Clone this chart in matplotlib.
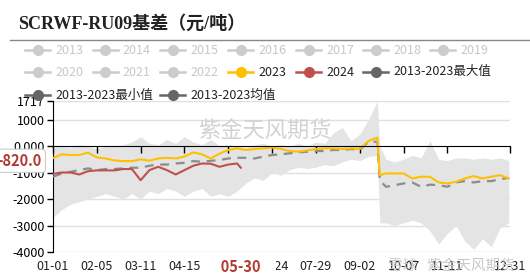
import matplotlib
matplotlib.use("Agg")
import matplotlib.pyplot as plt
from matplotlib.lines import Line2D
import pandas as pd

plt.rcParams['font.family'] = ['Noto Sans CJK SC', 'DejaVu Sans']

# day index in a leap-year calendar (0 = 01-01)
days = [0, 7, 14, 21, 28, 35, 42, 49, 56, 63, 70, 77, 84, 91, 98, 105, 112, 119,
        126, 133, 140, 147, 154, 161, 168, 175, 182, 189, 196, 203, 210, 217,
        224, 231, 238, 245, 252, 259, 261, 266, 273, 280, 287, 294, 301, 308,
        315, 322, 329, 336, 343, 350, 357, 364]

y2023 = [-455, -315, -340, -340, -250, -430, -470, -545, -570, -570,
         -505, -555, -470, -445, -470, -400, -240, -315, -470, -290,
         -150, -90, -150, -115, -90, -60, -110, -190, -215, -165,
         -115, -90, -90, -115, -90, -115, 190, 315,
         -1100,
         -1035, -1035, -1035, -1225, -1160, -1160, -1375, -1415, -1350, -1225,
         -1135, -1225, -1160, -1100, -1225]

mean_vals = [-1160, -1035, -975, -910, -845, -910, -870, -870, -845, -820,
             -820, -745, -700, -700, -660, -635, -570, -595, -560, -530,
             -470, -445, -445, -470, -400, -340, -315, -275, -240, -215,
             -190, -190, -150, -150, -115, -150, 160, 160,
             -1300,
             -1540, -1475, -1415, -1375, -1540, -1460, -1475, -1540, -1375, -1325,
             -1375, -1325, -1325, -1250, -1200]

max_vals = [-50, 0, -50, 50, 0, -100, 0, 0, 50, 150,
            350, 100, 50, 250, 100, 350, 150, 50, 250, 0,
            50, 0, -50, 50, 100, 0, 50, 0, 100, 0,
            150, 100, 500, 700, 200, 450, 1000, 1700,
            0,
            -500, -600, -500, -350, -450, 200, -500, -550, -450, -450,
            -500, -450, -500, -450, -550]

min_vals = [-2700, -2400, -2200, -2100, -2000, -1900, -1800, -1900, -2000, -1800,
            -2000, -1700, -1800, -1600, -1700, -1900, -1700, -1600, -1900, -1800,
            -1900, -1700, -1400, -1200, -1300, -1000, -1100, -900, -800, -850,
            -800, -700, -750, -600, -500, -550, -400, -350,
            -2900,
            -2900, -3000, -2900, -2800, -2900, -3200, -3700, -3300, -3000, -3600,
            -3900, -3500, -3800, -3100, -2900]

days_2024 = [0, 7, 14, 21, 28, 35, 42, 49, 56, 63, 70, 77, 84, 91, 98, 105,
             112, 119, 126, 133, 140, 147, 150]
y2024 = [-1050, -1000, -1000, -1075, -950, -920, -920, -920, -870, -870,
         -1290, -910, -785, -910, -1075, -910, -745, -660, -670, -785,
         -700, -660, -820]

dates = pd.date_range('2024-01-01', '2024-12-31').strftime('%m-%d')
tick_days = [0, 35, 70, 105, 140, 175, 210, 245, 280, 315, 365]
y_ticks = [-4000, -3000, -2000, -1000, 0, 1000, 1717]
y_labels = ['-4000', '-3000', '-2000', '-1000', '0.000', '1000', '1717']

legend_rows = [
    ['2013', '2014', '2015', '2016', '2017', '2018', '2019'],
    ['2020', '2021', '2022', '2023', '2024', '2013-2023最大值'],
    ['2013-2023最小值', '2013-2023均值'],
]
legend_colors = {'2023': '#ffc000', '2024': '#c0504d',
                 '2013-2023最大值': '#666666', '2013-2023最小值': '#666666',
                 '2013-2023均值': '#666666'}

W, H = 530, 280
fig = plt.figure(figsize=(W / 100, H / 100), dpi=100)
fig.patch.set_facecolor('white')


def fx(px):
    return px / W


def fy(py):
    return 1 - py / H


ax = fig.add_axes([fx(53), fy(252), fx(510) - fx(53), fy(100.5) - fy(252)])

ax.fill_between(days, min_vals, max_vals, color='#e4e4e4', lw=0, zorder=1)
ax.plot(days, mean_vals, color='#8c8c8c', lw=1.6, ls=(0, (4, 3)), zorder=3)
ax.plot(days, y2023, color='#ffc000', lw=1.5, zorder=4)
ax.plot(days_2024, y2024, color='#c0504d', lw=1.5, zorder=5)

ax.set_xlim(0, 365)
ax.set_ylim(-4000, 1717)
ax.set_yticks(y_ticks)
ax.set_yticklabels(y_labels)
ax.tick_params(axis='y', length=4, width=1, labelsize=9, pad=2, colors='black')
for v in y_ticks:
    if v != 0:
        ax.axhline(v, color='#e0e0e0', lw=1, zorder=0)

for s in ['top', 'right']:
    ax.spines[s].set_visible(False)
ax.spines['left'].set_color('black')
ax.spines['bottom'].set_position(('data', 0))
ax.spines['bottom'].set_color('black')
ax.spines['bottom'].set_zorder(6)
ax.set_xticks(tick_days)
ax.tick_params(axis='x', length=5, width=1, labelbottom=False, color='black')

for d in tick_days:
    ax.text(d, -0.095, dates[d], transform=ax.get_xaxis_transform(),
            ha='center', va='center', fontsize=9, color='#222222', zorder=6)

# pointer labels
ax.text(150, -0.1, '   ' + dates[150] + '   ', transform=ax.get_xaxis_transform(),
        ha='center', va='center', fontsize=10.5, fontweight='bold',
        color='#b03a30', zorder=8,
        bbox=dict(boxstyle='square,pad=0.35', fc='white', ec='none'))
ax.annotate('-820.0', xy=(0, y2024[-1]), xycoords=('axes fraction', 'data'),
            xytext=(-24, 5), textcoords='offset points', ha='center', va='center',
            fontsize=10.5, fontweight='bold', color='#b03a30', zorder=8,
            annotation_clip=False,
            bbox=dict(boxstyle='round,pad=0.25', fc='white', ec='#cccccc', lw=0.8))

# watermarks
fig.text(fx(265), fy(131), '紫金天风期货', ha='center', va='center',
         fontsize=16, color='#d2d2d2', zorder=0)
fig.text(fx(515), fy(266), '雪球   紫金天风期货', ha='right', va='center',
         fontsize=10.5, color='#c4c4c4', alpha=0.9)

# title and separator
fig.text(fx(18), fy(24), 'SCRWF-RU09基差（元/吨）', ha='left', va='center',
         fontsize=13, fontweight='bold', color='#222222',
         family=['Liberation Serif', 'Noto Sans CJK SC'])
fig.add_artist(Line2D([fx(10), fx(530)], [fy(40), fy(40)], color='#888888',
                      lw=1, transform=fig.transFigure))

# legend
row_y = [50, 72, 95]
x_starts = [25, 92.5, 160, 228, 296, 363, 430]
for r, names in enumerate(legend_rows):
    for i, name in enumerate(names):
        if r == 2 and i == 1:
            x0 = 160
        else:
            x0 = x_starts[i]
        c = legend_colors.get(name, '#cccccc')
        tc = '#222222' if name in legend_colors else '#c8c8c8'
        y = row_y[r]
        fig.add_artist(Line2D([fx(x0), fx(x0 + 25)], [fy(y), fy(y)], color=c,
                              lw=1.8, transform=fig.transFigure))
        fig.add_artist(Line2D([fx(x0 + 12.5)], [fy(y)], marker='o', ms=7,
                              color=c, lw=0, transform=fig.transFigure))
        fig.text(fx(x0 + 30), fy(y), name, ha='left', va='center',
                 fontsize=9, color=tc)

fig.savefig('out.png', dpi=100, facecolor='white')
